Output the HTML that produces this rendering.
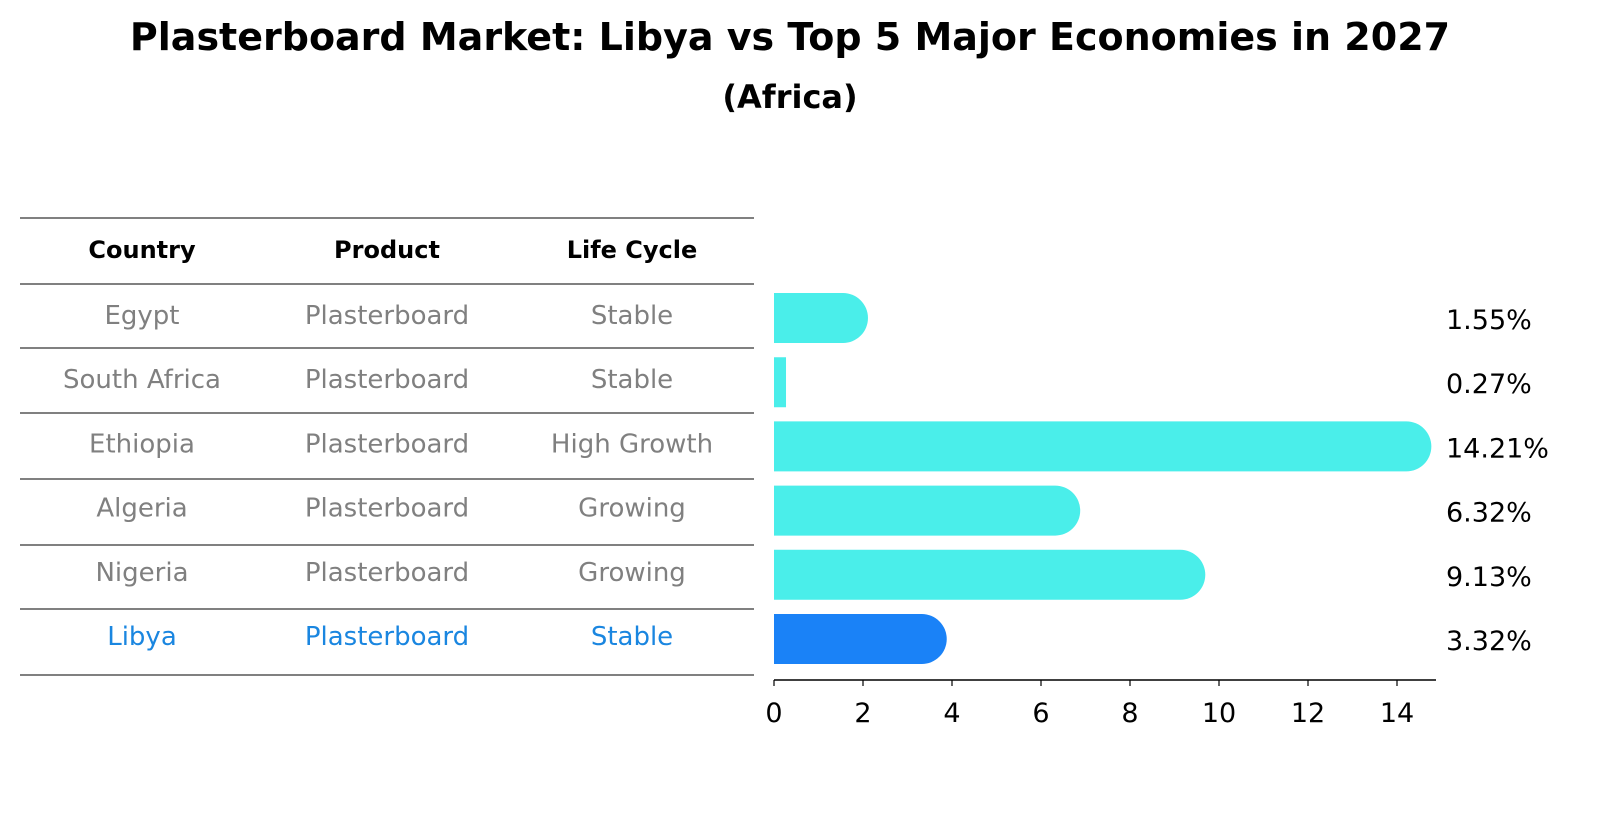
<!DOCTYPE html>
<html><head><meta charset="utf-8"><style>
body{margin:0;background:#fff}
svg text{font-family:"DejaVu Sans","Liberation Sans",sans-serif}
</style></head><body>
<svg width="1604" height="823" xmlns="http://www.w3.org/2000/svg">
<text x="790" y="50" text-anchor="middle" style="font-size:38px;font-weight:bold">Plasterboard Market: Libya vs Top 5 Major Economies in 2027</text>
<text x="790" y="108" text-anchor="middle" style="font-size:32px;font-weight:bold">(Africa)</text>
<g id="table"></g>
<g id="bars"></g>
</svg>
<script>
const countries=["Egypt","South Africa","Ethiopia","Algeria","Nigeria","Libya"];
const products=["Plasterboard","Plasterboard","Plasterboard","Plasterboard","Plasterboard","Plasterboard"];
const lifeCycles=["Stable","Stable","High Growth","Growing","Growing","Stable"];
const values=[1.55,0.27,14.21,6.32,9.13,3.32];
const ticks=[0,2,4,6,8,10,12,14];
const NS="http://www.w3.org/2000/svg";
function mk(t,a,p,txt){const e=document.createElementNS(NS,t);for(const k in a)e.setAttribute(k,a[k]);if(txt!==undefined)e.textContent=txt;p.appendChild(e);return e;}
const tbl=document.getElementById('table'),bars=document.getElementById('bars');
const lines=[218,284,348,413,479,545,609,675];
lines.forEach((y,i)=>{const l=mk('line',{x1:20,x2:754,y1:y,y2:y,stroke:'#000','stroke-width':1},tbl);

});
const colX=[142,387,632];
["Country","Product","Life Cycle"].forEach((h,i)=>{const t=mk('text',{x:colX[i],y:258,'text-anchor':'middle',style:'font-size:24px;font-weight:bold'},tbl,h);

});
const x=v=>774+v*44.5;
const rowY=i=>318+i*64.2;
countries.forEach((c,i)=>{
 const col=c==="Libya"?"#1a86e0":"#808080";
 [c,products[i],lifeCycles[i]].forEach((s,j)=>{const t=mk('text',{x:colX[j],y:rowY(i)+6,'text-anchor':'middle',style:'font-size:26px',fill:col},tbl,s);
 
 });
 const fill=c==="Libya"?"#1a82f7":"#4aeeea";
 const v=values[i],h=50,y0=rowY(i)-h/2,r=25;
 let d;
 if(v<1){d=`M774 ${y0}H${x(v)}V${y0+h}H774Z`;}
 else{d=`M774 ${y0}H${x(v)}A${r} ${r} 0 0 1 ${x(v)} ${y0+h}H774Z`;}
 const b=mk('path',{d:d,fill:fill},bars);
 
 
 const lb=mk('text',{x:1446,y:rowY(i)+11,style:'font-size:27px'},bars,v.toFixed(2)+'%');
 
 
});
const ax=mk('line',{x1:774,x2:1436,y1:680,y2:680,stroke:'#000','stroke-width':1.5},bars);


ticks.forEach(t=>{mk('line',{x1:x(t),x2:x(t),y1:680,y2:686,stroke:'#000','stroke-width':1.2},bars);
 const tl=mk('text',{x:x(t),y:722,'text-anchor':'middle',style:'font-size:27px'},bars,t);
 
 });
</script>
</body></html>
